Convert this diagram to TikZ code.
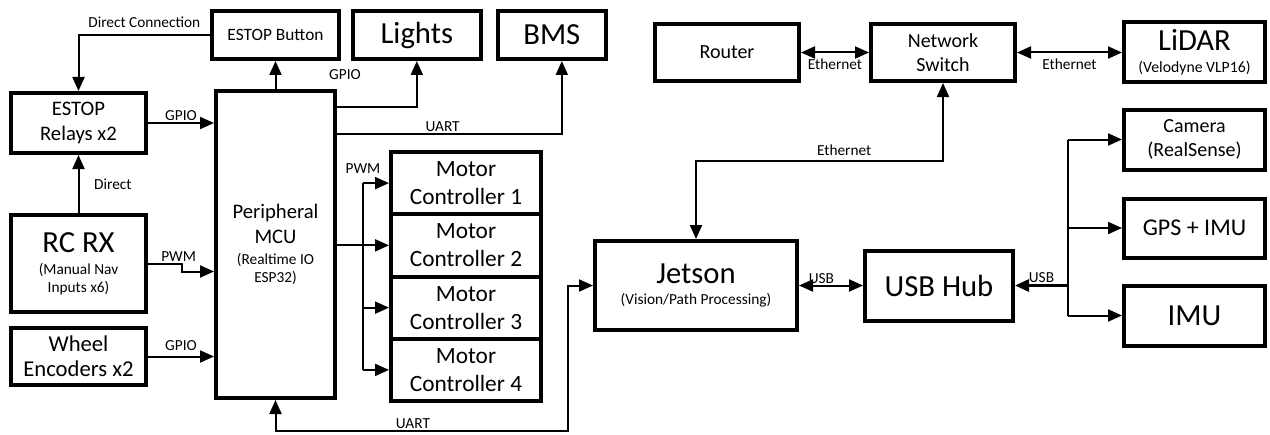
\documentclass[tikz,border=0pt]{standalone}
\usepackage{fontspec}
\setmainfont{Carlito}
\usetikzlibrary{positioning,arrows.meta,calc}

\newcommand\fsBig{\fontsize{23}{26}\selectfont}
\newcommand\fsMid{\fontsize{15.5}{18.5}\selectfont}
\newcommand\fsMotor{\fontsize{17.5}{21}\selectfont}
\newcommand\fsSmall{\fontsize{15}{17.5}\selectfont}
\newcommand\fsSub{\fontsize{11.5}{13.8}\selectfont}
\newcommand\fsTag{\fontsize{11.5}{13}\selectfont}

\begin{document}
\begin{tikzpicture}[x=0.75pt, y=-0.75pt, node distance=1em, auto, align=center,
    >={Triangle[length=10.5pt,width=9pt]},
    block/.style={draw, line width=3pt, shape=rectangle, inner sep=1pt},
    tag/.style={font=\fsTag, inner sep=1pt},
    wire/.style={line width=1.5pt}]
    \useasboundingbox (0,0) rectangle (1270,435);

    \node (button) [block, font=\fontsize{13}{15}\selectfont, minimum width=95pt, minimum height=36pt] at (275.5,35) {ESTOP Button};
    \node (lights) [block, font=\fsBig, minimum width=96pt, minimum height=36pt, right=7.5pt of button] {Lights};
    \node (bms) [block, font=\fsBig, minimum width=81pt, minimum height=36pt, right=9.75pt of lights] {BMS};
    \node (relays) [block, font=\fsMid, minimum width=101.25pt, minimum height=45pt] at (78.5,123) {ESTOP\\Relays x2};
    \node (mcu) [block, font=\fsMid, minimum width=89.25pt, minimum height=230.25pt] at (275.5,244.5) {Peripheral\\MCU\\[-3pt]\fsSub (Realtime IO\\[-4.8pt]\fsSub ESP32)};
    \node (rc) [block, font=\fsBig, minimum width=101.25pt, minimum height=72.75pt] at (78.5,263.5) {RC RX\\[-9.5pt]\fsSub (Manual Nav\\[-12.3pt]\fsSub Inputs x6)};
    \node (enc) [block, font=\fontsize{17}{19}\selectfont, minimum width=101.25pt, minimum height=42.75pt] at (78.5,356.5) {Wheel\\Encoders x2};

    \node (mc1) [block, font=\fsMotor, minimum width=112.5pt, minimum height=46.7pt] at (466,183.1) {Motor\\Controller 1};
    \node (mc2) [block, font=\fsMotor, minimum width=112.5pt, minimum height=46.7pt, below=-3pt of mc1] {Motor\\Controller 2};
    \node (mc3) [block, font=\fsMotor, minimum width=112.5pt, minimum height=46.7pt, below=-3pt of mc2] {Motor\\Controller 3};
    \node (mc4) [block, font=\fsMotor, minimum width=112.5pt, minimum height=46.7pt, below=-3pt of mc3] {Motor\\Controller 4};

    \node (jetson) [block, font=\fsBig, minimum width=151.5pt, minimum height=66.75pt] at (696,285.5) {Jetson\\[-10pt]\fsSub (Vision/Path Processing)};
    \node (hub) [block, font=\fsBig, minimum width=111pt, minimum height=52.5pt, right=48pt of jetson] {USB Hub};

    \node (router) [block, font=\fsSmall, minimum width=108pt, minimum height=42.75pt] at (727,52.5) {Router};
    \node (switch) [block, font=\fsSmall, minimum width=108pt, minimum height=42.75pt, right=51pt of router] {Network\\Switch};
    \node (lidar) [block, font=\fsBig, minimum width=105.75pt, minimum height=45pt, right=78.75pt of switch] {LiDAR\\[-9.5pt]\fontsize{11.8}{13}\selectfont (Velodyne VLP16)};
    \node (camera) [block, font=\fsSmall, minimum width=105.75pt, minimum height=45pt, below=17.25pt of lidar] {Camera\\(RealSense)};
    \node (gps) [block, font=\fontsize{18}{21}\selectfont, minimum width=105.75pt, minimum height=44.25pt, below=18.75pt of camera] {GPS + IMU};
    \node (imu) [block, font=\fsBig, minimum width=105.75pt, minimum height=45pt, below=18pt of gps] {IMU};

    \draw [wire, ->] (button.west) -| node [tag, pos=0.25, above=4pt] {Direct Connection} (relays.north);
    \draw [wire, ->] (mcu.north) -- (button.south);
    \draw [wire, ->] ($(mcu.north east)+(0,18)$) -| (lights.south);
    \node (gpiolights) [tag] at (345,75) {GPIO};
    \draw [wire, ->] ($(mcu.north east)+(0,45)$) -| node [tag, pos=0.235, above] {UART} ($(bms.south)+(10,0)$);

    \draw [wire, ->] (relays.east) -- node [tag, above] {GPIO} (mcu.west |- relays.east);
    \draw [wire, ->] (rc.north) -- node [tag, right=10pt] {Direct} (relays.south);
    \draw [wire, ->] (rc.east) -- node [tag, above, pos=0.9] {PWM} ++(34,0) |- ($(mcu.west |- rc.east)+(0,8)$);
    \draw [wire, ->] (enc.east) -- node [tag, above=3pt] {GPIO} (mcu.west |- enc.east);

    \coordinate (pwmbus) at ($(mcu.east |- mc2)+(26,0)$);
    \draw [wire] (mcu.east |- mc2) -- (pwmbus);
    \draw [wire] (pwmbus |- mc1) -- (pwmbus |- mc4);
    \draw [wire, ->] (pwmbus |- mc1) -- (mc1.west);
    \draw [wire, ->] (pwmbus |- mc2) -- (mc2.west);
    \draw [wire, ->] (pwmbus |- mc3) -- (mc3.west);
    \draw [wire, ->] (pwmbus |- mc4) -- (mc4.west);
    \node (pwmtag) [tag, above=6pt] at (pwmbus |- mc1) {PWM};

    \draw [wire, <->] (mcu.south) -- ++(0,31) -| node [tag, pos=0.235, above] {UART} ($(jetson.west)+(-25,0)$) -- (jetson.west);
    \draw [wire, <->] (jetson.north) -- ++(0,-78) -| node [tag, pos=0.3, above=2pt] {Ethernet} (switch.south);

    \draw [wire, <->] (router) -- node [tag, below=3pt] {Ethernet} (switch);
    \draw [wire, <->] (switch) -- node [tag, below=3pt] {Ethernet} (lidar);
    \draw [wire, <->] (jetson) -- node [tag, above, pos=0.35] {USB} (hub);

    \coordinate (usbbus) at ($(hub.east)+(53,0)$);
    \draw [wire, line width=2.2pt, ->] (usbbus) -- node [tag, above] {USB} (hub.east);
    \draw [wire] (usbbus |- camera) -- (usbbus |- imu);
    \draw [wire, ->] (usbbus |- camera) -- (camera.west);
    \draw [wire, ->] (usbbus |- gps) -- (gps.west);
    \draw [wire, ->] (usbbus |- imu) -- (imu.west);
\end{tikzpicture}
\end{document}
